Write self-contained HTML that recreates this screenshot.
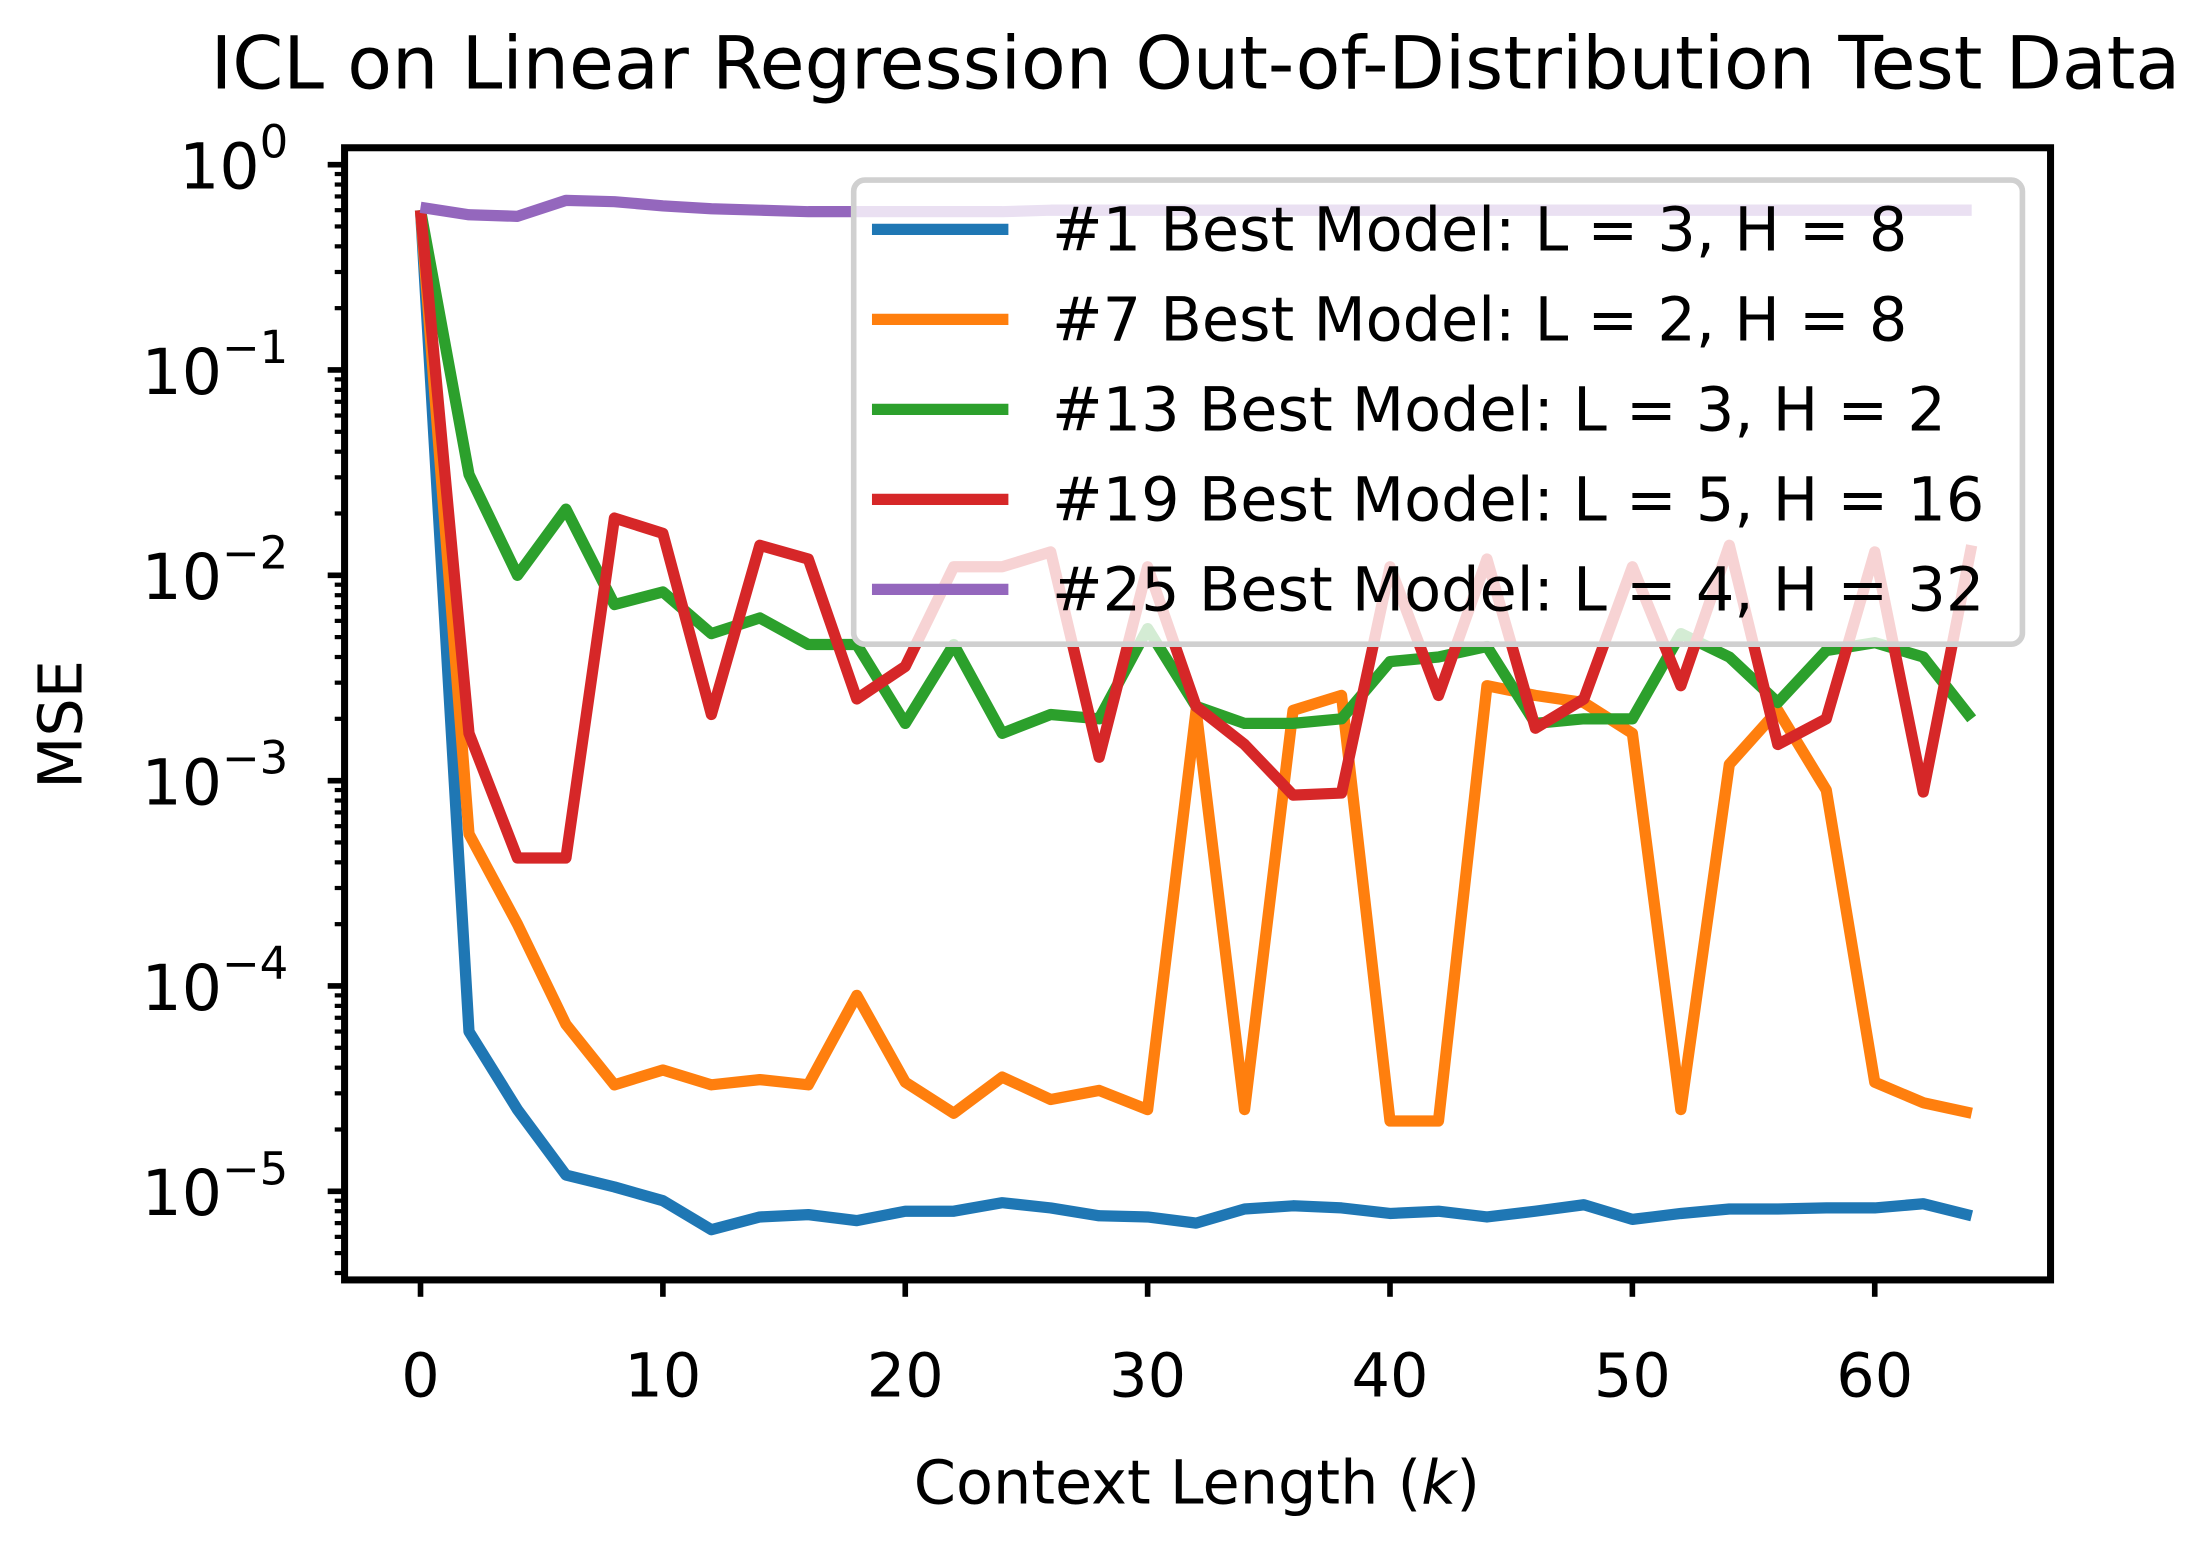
<!DOCTYPE html>
<html><head><meta charset="utf-8"><style>
html,body{margin:0;padding:0;background:#fff}
svg{display:block;font-family:"DejaVu Sans","Liberation Sans",sans-serif}
</style></head><body>
<svg id="chart" width="2194" height="1543" viewBox="0 0 1560 1097" xmlns="http://www.w3.org/2000/svg">
<text x="850" y="63" font-size="52" text-anchor="middle" fill="#000">ICL on Linear Regression Out-of-Distribution Test Data</text>
<g id="plot"></g>
<g id="axes"></g>
<text x="851" y="1069" font-size="43" text-anchor="middle">Context Length (<tspan font-style="italic">k</tspan>)</text>
<text transform="translate(58,515) rotate(-90)" font-size="43" text-anchor="middle">MSE</text>
<g id="legend"></g>
</svg>
<script>
const xs = [0,2,4,6,8,10,12,14,16,18,20,22,24,26,28,30,32,34,36,38,40,42,44,46,48,50,52,54,56,58,60,62,64];
const blue = [0.6,6e-5,2.5e-5,1.2e-5,1.05e-5,9e-6,6.5e-6,7.5e-6,7.7e-6,7.2e-6,8e-6,8e-6,8.8e-6,8.3e-6,7.6e-6,7.5e-6,7e-6,8.2e-6,8.5e-6,8.3e-6,7.8e-6,8e-6,7.5e-6,8e-6,8.6e-6,7.3e-6,7.8e-6,8.2e-6,8.2e-6,8.3e-6,8.3e-6,8.7e-6,7.6e-6];
const orange = [0.6,5.5e-4,2e-4,6.5e-5,3.3e-5,3.9e-5,3.3e-5,3.5e-5,3.3e-5,9e-5,3.4e-5,2.4e-5,3.6e-5,2.8e-5,3.1e-5,2.5e-5,2.2e-3,2.5e-5,2.2e-3,2.6e-3,2.2e-5,2.2e-5,2.9e-3,2.6e-3,2.4e-3,1.7e-3,2.5e-5,1.2e-3,2.2e-3,9e-4,3.4e-5,2.7e-5,2.4e-5];
const green = [0.6,0.031,0.010,0.021,0.0072,0.0083,0.0052,0.0062,0.0046,0.0046,0.0019,0.0046,0.0017,0.0021,0.002,0.0055,0.0023,0.0019,0.0019,0.002,0.0038,0.004,0.0045,0.0019,0.002,0.002,0.0052,0.004,0.0024,0.0043,0.0047,0.004,0.002];
const red = [0.6,0.0017,4.2e-4,4.2e-4,0.019,0.016,0.0021,0.014,0.012,0.0025,0.0036,0.011,0.011,0.013,0.0013,0.011,0.0023,0.0015,8.5e-4,8.7e-4,0.011,0.0026,0.012,0.0018,0.0025,0.011,0.0029,0.014,0.0015,0.002,0.013,8.8e-4,0.014];
const purple = [0.62,0.57,0.56,0.67,0.66,0.63,0.61,0.60,0.59,0.59,0.59,0.59,0.59,0.6,0.6,0.6,0.6,0.6,0.6,0.6,0.6,0.6,0.6,0.6,0.6,0.6,0.6,0.6,0.6,0.6,0.6,0.6,0.6];
const seriesNames = ["#1 Best Model: L = 3, H = 8","#7 Best Model: L = 2, H = 8","#13 Best Model: L = 3, H = 2","#19 Best Model: L = 5, H = 16","#25 Best Model: L = 4, H = 32"];
const xTicks = [0,10,20,30,40,50,60];
const yExps = [0,-1,-2,-3,-4,-5];

const NS="http://www.w3.org/2000/svg";
const L=245,R=1458,T=105,B=910;
function sx(v){return 299+(1333-299)*v/60;}
function sy(v){return 117-146*Math.log10(v);}
function mk(tag,attrs,parent){const e=document.createElementNS(NS,tag);for(const k in attrs)e.setAttribute(k,attrs[k]);parent.appendChild(e);return e;}
const plot=document.getElementById('plot'),axes=document.getElementById('axes'),leg=document.getElementById('legend');
const cols=['#1f77b4','#ff7f0e','#2ca02c','#d62728','#9467bd'];
const data=[blue,orange,green,red,purple];
const snames=['series-blue','series-orange','series-green','series-red','series-purple'];
data.forEach((d,i)=>{
  const p=mk('polyline',{points:d.map((v,j)=>sx(xs[j])+','+sy(v)).join(' '),fill:'none',stroke:cols[i],'stroke-width':8,'stroke-linejoin':'round'},plot);
  
  
});
const fr=mk('rect',{x:L,y:T,width:R-L,height:B-T,fill:'none',stroke:'#000','stroke-width':5},axes);


xTicks.forEach(t=>{
  mk('line',{x1:sx(t),x2:sx(t),y1:B,y2:B+12,stroke:'#000','stroke-width':4},axes);
  const tx=mk('text',{x:sx(t),y:B+83,'font-size':43,'text-anchor':'middle'},axes);
  tx.textContent=t;
  
  
});
yExps.forEach(e=>{
  const y=sy(Math.pow(10,e));
  mk('line',{x1:L-12,x2:L,y1:y,y2:y,stroke:'#000','stroke-width':4},axes);
  const tx=mk('text',{x:L-40,y:y+17,'font-size':45,'text-anchor':'end'},axes);
  tx.innerHTML='10<tspan dy="-22" font-size="32">'+(e<0?'\u2212'+(-e):e)+'</tspan>';
  
  
});
for(let e=-6;e<1;e++){for(let m=2;m<10;m++){const v=m*Math.pow(10,e);const y=sy(v);if(y<T||y>B)continue;mk('line',{x1:L-7,x2:L,y1:y,y2:y,stroke:'#000','stroke-width':3},axes);}}
const lb=mk('rect',{x:607,y:128,width:831,height:330,rx:8,fill:'rgba(255,255,255,0.8)',stroke:'#d0d0d0','stroke-width':4},leg);


seriesNames.forEach((n,i)=>{
  const y=163+64*i;
  const g=mk('g',{},leg);
  
  
  mk('line',{x1:620,x2:717,y1:y,y2:y,stroke:cols[i],'stroke-width':8},g);
  const t=mk('text',{x:748,y:y+15,'font-size':43},g);
  t.textContent=n;
});
</script>
</body></html>
